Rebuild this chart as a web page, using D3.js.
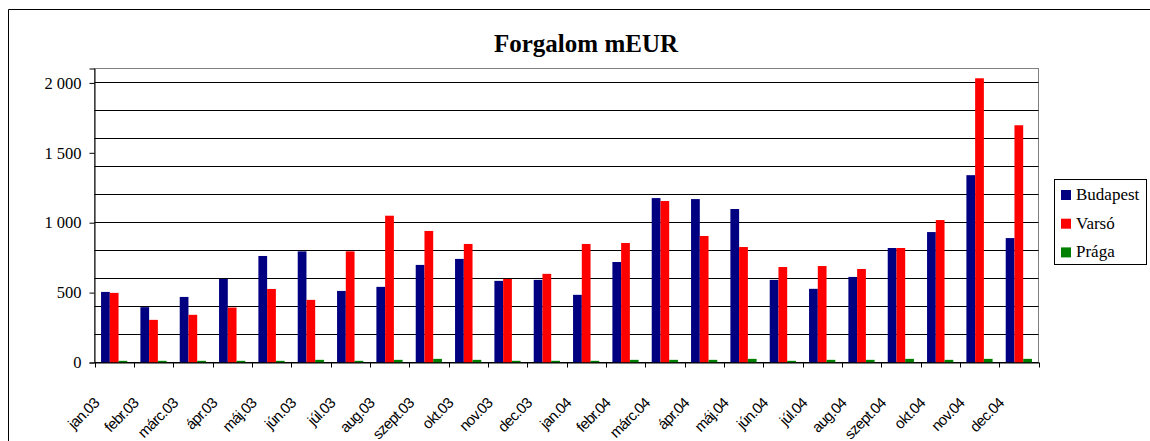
<!DOCTYPE html>
<html>
<head>
<meta charset="utf-8">
<script src="https://cdn.jsdelivr.net/npm/d3@7"></script>
<style>
  html, body { margin: 0; padding: 0; background: #fff; }
  svg { display: block; }
</style>
</head>
<body>
<div id="chart"></div>
<script>
const months = ["jan.03","febr.03","márc.03","ápr.03","máj.03","jún.03","júl.03","aug.03","szept.03","okt.03","nov.03","dec.03",
                "jan.04","febr.04","márc.04","ápr.04","máj.04","jún.04","júl.04","aug.04","szept.04","okt.04","nov.04","dec.04"];
const seriesNames = ["Budapest","Varsó","Prága"];
const budapest = [505,396,469,598,762,795,512,541,698,741,584,591,484,719,1176,1169,1098,591,527,612,819,933,1340,890];
const varso    = [498,305,341,393,526,448,795,1050,941,848,598,634,848,855,1155,905,826,683,690,669,819,1019,2033,1697];
const praga    = [12,12,12,12,12,19,12,19,26,19,12,12,12,19,19,19,26,12,19,19,26,19,26,26];
const yTicks = [0,500,1000,1500,2000];
const yGrid = [0,200,400,600,800,1000,1200,1400,1600,1800,2000];
const colors = ["#000080","#FF0000","#008000"];
const title = "Forgalom mEUR";

(function () {
const W = 1150, H = 441;
const serif = "'Liberation Serif', 'Times New Roman', serif";
const svg = d3.select("#chart").append("svg").attr("width", W).attr("height", H);

// outer chart border
svg.append("path").attr("d", `M8.5,${H+5} L8.5,9.5 L${W+5},9.5`)
  .attr("fill","none").attr("stroke","#000").attr("stroke-width",1);

const pLeft = 94.5, pRight = 1038.5, pTop = 68.5, pBottom = 362.5;
const x = d3.scaleBand().domain(months).range([pLeft, pRight]).padding(0);
const y = d3.scaleLinear().domain([0, 2103]).range([pBottom, pTop]);

const bw = x.bandwidth() / 4.5;
const xs = d3.scaleBand().domain(seriesNames).range([0.75*bw, 3.75*bw]).padding(0);

// plot frame (gray)
svg.append("rect").attr("x", pLeft).attr("y", pTop).attr("width", pRight-pLeft).attr("height", pBottom-pTop)
  .attr("fill","#fff").attr("stroke","#808080").attr("stroke-width",1);

// gridlines
svg.append("g").selectAll("line").data(yGrid).join("line")
  .attr("x1", pLeft).attr("x2", pRight)
  .attr("y1", d => Math.round(y(d)-0.5)+0.5).attr("y2", d => Math.round(y(d)-0.5)+0.5)
  .attr("stroke","#000").attr("stroke-width",1);

// bars
const data = months.map((m,i) => ({m, vals:[budapest[i], varso[i], praga[i]]}));
const groups = svg.append("g").selectAll("g").data(data).join("g")
  .attr("transform", d => `translate(${x(d.m)},0)`);
groups.selectAll("rect").data(d => d.vals.map((v,j)=>({v, s:seriesNames[j], j}))).join("rect")
  .attr("x", d => xs(d.s)).attr("width", xs.bandwidth())
  .attr("y", d => y(d.v)).attr("height", d => y(0) - y(d.v))
  .attr("fill", d => colors[d.j]);

// y axis
const yAxis = d3.axisLeft(y).tickValues(yTicks).tickSize(5).tickPadding(8)
  .tickFormat(v => d3.format(",")(v).replace(/,/g, " "));
const ga = svg.append("g").attr("transform", `translate(${pLeft},0)`).call(yAxis)
  .attr("font-family", serif);
ga.select(".domain").attr("stroke","#000");
ga.selectAll(".tick line").attr("stroke","#000");
ga.selectAll(".tick text").style("font-family", serif)
  .attr("font-size","16.5px").attr("fill","#000");

// x axis
const xAxis = d3.axisBottom(x).tickSize(0).tickFormat("");
const gx = svg.append("g").attr("transform", `translate(0,${pBottom})`).call(xAxis);
gx.select(".domain").attr("stroke","#000");
const bounds = months.map(m => x(m)).concat([pRight]);
svg.append("g").selectAll("line").data(bounds).join("line")
  .attr("x1", d => Math.round(d)+0.5).attr("x2", d => Math.round(d)+0.5)
  .attr("y1", pBottom).attr("y2", pBottom+5).attr("stroke","#000");

svg.append("g").selectAll("text").data(months).join("text")
  .attr("transform", d => `translate(${x(d)+x.bandwidth()/2-14},${404}) rotate(-45)`)
  .attr("text-anchor","end")
  .attr("font-family","'Liberation Sans', Arial, sans-serif")
  .attr("font-size","15px").attr("letter-spacing","-0.7px").attr("fill","#000")
  .text(d => d);

// title
svg.append("text").attr("x", 586).attr("y", 52).attr("text-anchor","middle")
  .attr("font-family", serif)
  .attr("font-weight","bold").attr("font-size","25px").attr("fill","#000")
  .text(title);

// legend
const lg = svg.append("g");
lg.append("rect").attr("x",1054.5).attr("y",179.5).attr("width",92).attr("height",85)
  .attr("fill","#fff").attr("stroke","#000").attr("stroke-width",1);
const items = lg.selectAll("g").data(seriesNames).join("g")
  .attr("transform", (d,i) => `translate(0,${200 + i*28.7})`);
items.append("rect").attr("x",1061).attr("y",-10).attr("width",10).attr("height",10)
  .attr("fill",(d,i)=>colors[i]);
items.append("text").attr("x",1076).attr("y",0)
  .attr("font-family", serif)
  .attr("font-size","17px").attr("fill","#000").text(d => d);
})();
</script>
</body>
</html>
